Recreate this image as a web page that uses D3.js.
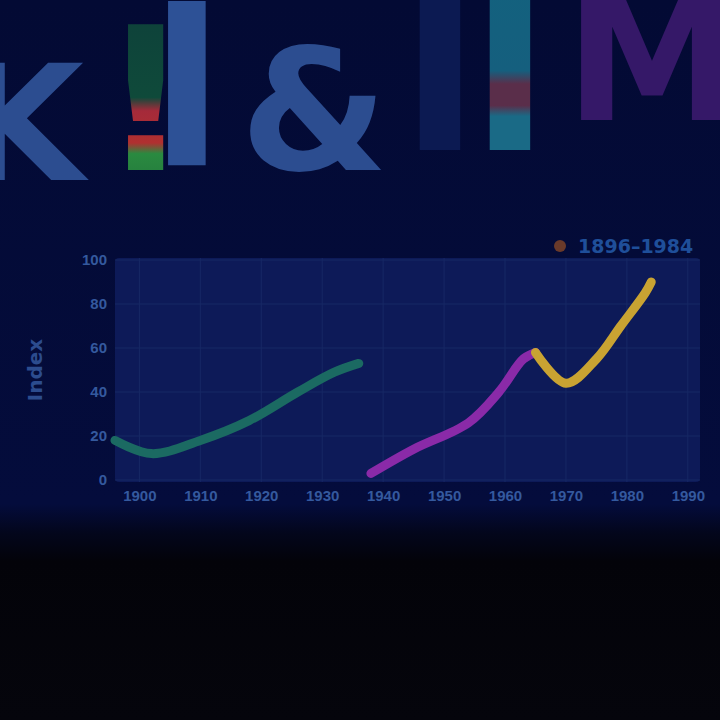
<!DOCTYPE html>
<html><head><meta charset="utf-8">
<script src="https://cdn.jsdelivr.net/npm/d3@7"></script>
<style>
html,body{margin:0;padding:0;background:#04040b;}
svg{display:block;font-family:"DejaVu Sans",sans-serif;}
</style></head>
<body>
<script>
// ---- data ----
const xTickYears = [1900,1910,1920,1930,1940,1950,1960,1970,1980,1990];
const yTickValues = [0,20,40,60,80,100];
const seriesNames = ["Era I","Era II","Era III"];
const seriesColors = ["#1b6a62","#8a2aa8","#c9a332"];
const eraIYears = [1896,1902,1910,1918,1926,1932,1936];
const eraIValues = [18,12,18,27,40,49,53];
const eraIIYears = [1938,1945,1954,1959,1963,1965];
const eraIIValues = [3,14,26,40,55,58];
const eraIIIYears = [1965,1970,1975,1979,1983,1984];
const eraIIIValues = [58,44,55,70,85,90];
const headerGlyphs = ["K","!","l","&","I","I","M"];
const headerColors = ["#2c4d90","url(#gRG)","#2d5196","#2c4d90","url(#gDG)","url(#gCy)","#351868"];
const legendLabel = "1896–1984";
const yTitle = "Index";

const W=720,H=720;
const svg=d3.select("body").append("svg").attr("width",W).attr("height",H);
const defs=svg.append("defs");
function vgrad(id,stops){
  const g=defs.append("linearGradient").attr("id",id).attr("x1",0).attr("x2",0).attr("y1",0).attr("y2",1);
  stops.forEach(s=>g.append("stop").attr("offset",s[0]).attr("stop-color",s[1]));
}
vgrad("bg",[[0,"#030a34"],[0.7,"#040c3c"],[0.74,"#03061c"],[0.78,"#030309"],[1,"#05050c"]]);
vgrad("gRG",[[0,"#0d3b3a"],[0.55,"#0f4a3a"],[0.6,"#a52a3a"],[0.72,"#b03030"],[0.76,"#2a8a40"],[1,"#1d6a3a"]]);
vgrad("gDG",[[0,"#0c1a52"],[0.75,"#0c1a52"],[0.85,"#1a6a48"],[1,"#0c1a52"]]);
vgrad("gCy",[[0,"#12627e"],[0.45,"#155f7e"],[0.5,"#5a2e4a"],[0.58,"#5a2e4a"],[0.62,"#1a6a86"],[1,"#1a6a86"]]);

svg.append("rect").attr("width",W).attr("height",H).attr("fill","url(#bg)");

// header glyphs as one text line
const hx=[-40,100,150,240,400,470,565];
const hs=[160,200,215,170,215,215,175];
const hy=[180,170,165,170,150,150,120];
svg.append("text").attr("font-weight","bold")
  .selectAll("tspan").data(headerGlyphs).join("tspan")
  .attr("x",(d,i)=>hx[i]).attr("y",(d,i)=>hy[i])
  .attr("font-size",(d,i)=>hs[i])
  .attr("fill",(d,i)=>headerColors[i]).text(d=>d);

// plot
const m={l:115,r:700,t:258,b:482};
const x=d3.scaleLinear().domain([1896,1992]).range([m.l,m.r]);
const y=d3.scaleLinear().domain([0,100]).range([480,260]);

svg.append("rect").attr("x",m.l).attr("y",m.t).attr("width",m.r-m.l).attr("height",m.b-m.t)
  .attr("fill","#0d1a58").attr("rx",4);

// grid
const g=svg.append("g");
g.selectAll("line.v").data(xTickYears).join("line").attr("class","v")
  .attr("x1",d=>x(d)).attr("x2",d=>x(d)).attr("y1",m.t).attr("y2",m.b)
  .attr("stroke","#172865").attr("stroke-width",1);
g.selectAll("line.h").data(yTickValues).join("line").attr("class","h")
  .attr("x1",m.l).attr("x2",m.r).attr("y1",d=>y(d)).attr("y2",d=>y(d))
  .attr("stroke","#172865").attr("stroke-width",1);

// axes
const xAxis=svg.append("g").attr("transform",`translate(0,${m.b})`)
  .call(d3.axisBottom(x).tickValues(xTickYears).tickFormat(d3.format("d")).tickSize(0).tickPadding(8));
const yAxis=svg.append("g").attr("transform",`translate(${m.l},0)`)
  .call(d3.axisLeft(y).tickValues(yTickValues).tickSize(0).tickPadding(8));
[xAxis,yAxis].forEach(a=>{
  a.select(".domain").remove();
  a.selectAll("text").attr("fill","#34599e").attr("font-size",15).attr("font-weight","bold");
});
svg.append("text").attr("transform","translate(42,370) rotate(-90)")
  .attr("text-anchor","middle").attr("fill","#2c4c8e").attr("font-size",20).attr("font-weight","bold")
  .text(yTitle);

// lines
const line=d3.line().x(d=>x(d[0])).y(d=>y(d[1])).curve(d3.curveCatmullRom);
const series=[
  d3.zip(eraIYears,eraIValues),
  d3.zip(eraIIYears,eraIIValues),
  d3.zip(eraIIIYears,eraIIIValues)
];
svg.append("g").selectAll("path").data(series).join("path")
  .attr("d",line).attr("fill","none")
  .attr("stroke",(d,i)=>seriesColors[i]).attr("stroke-width",9)
  .attr("stroke-linecap","round").attr("stroke-linejoin","round");

// legend
const lg=svg.append("g");
lg.append("circle").attr("cx",560).attr("cy",246).attr("r",6).attr("fill","#6a3a2a");
lg.append("text").attr("x",578).attr("y",253).attr("fill","#1f4f9a").attr("font-size",19)
  .attr("font-weight","bold").text(legendLabel);
</script>
</body></html>
